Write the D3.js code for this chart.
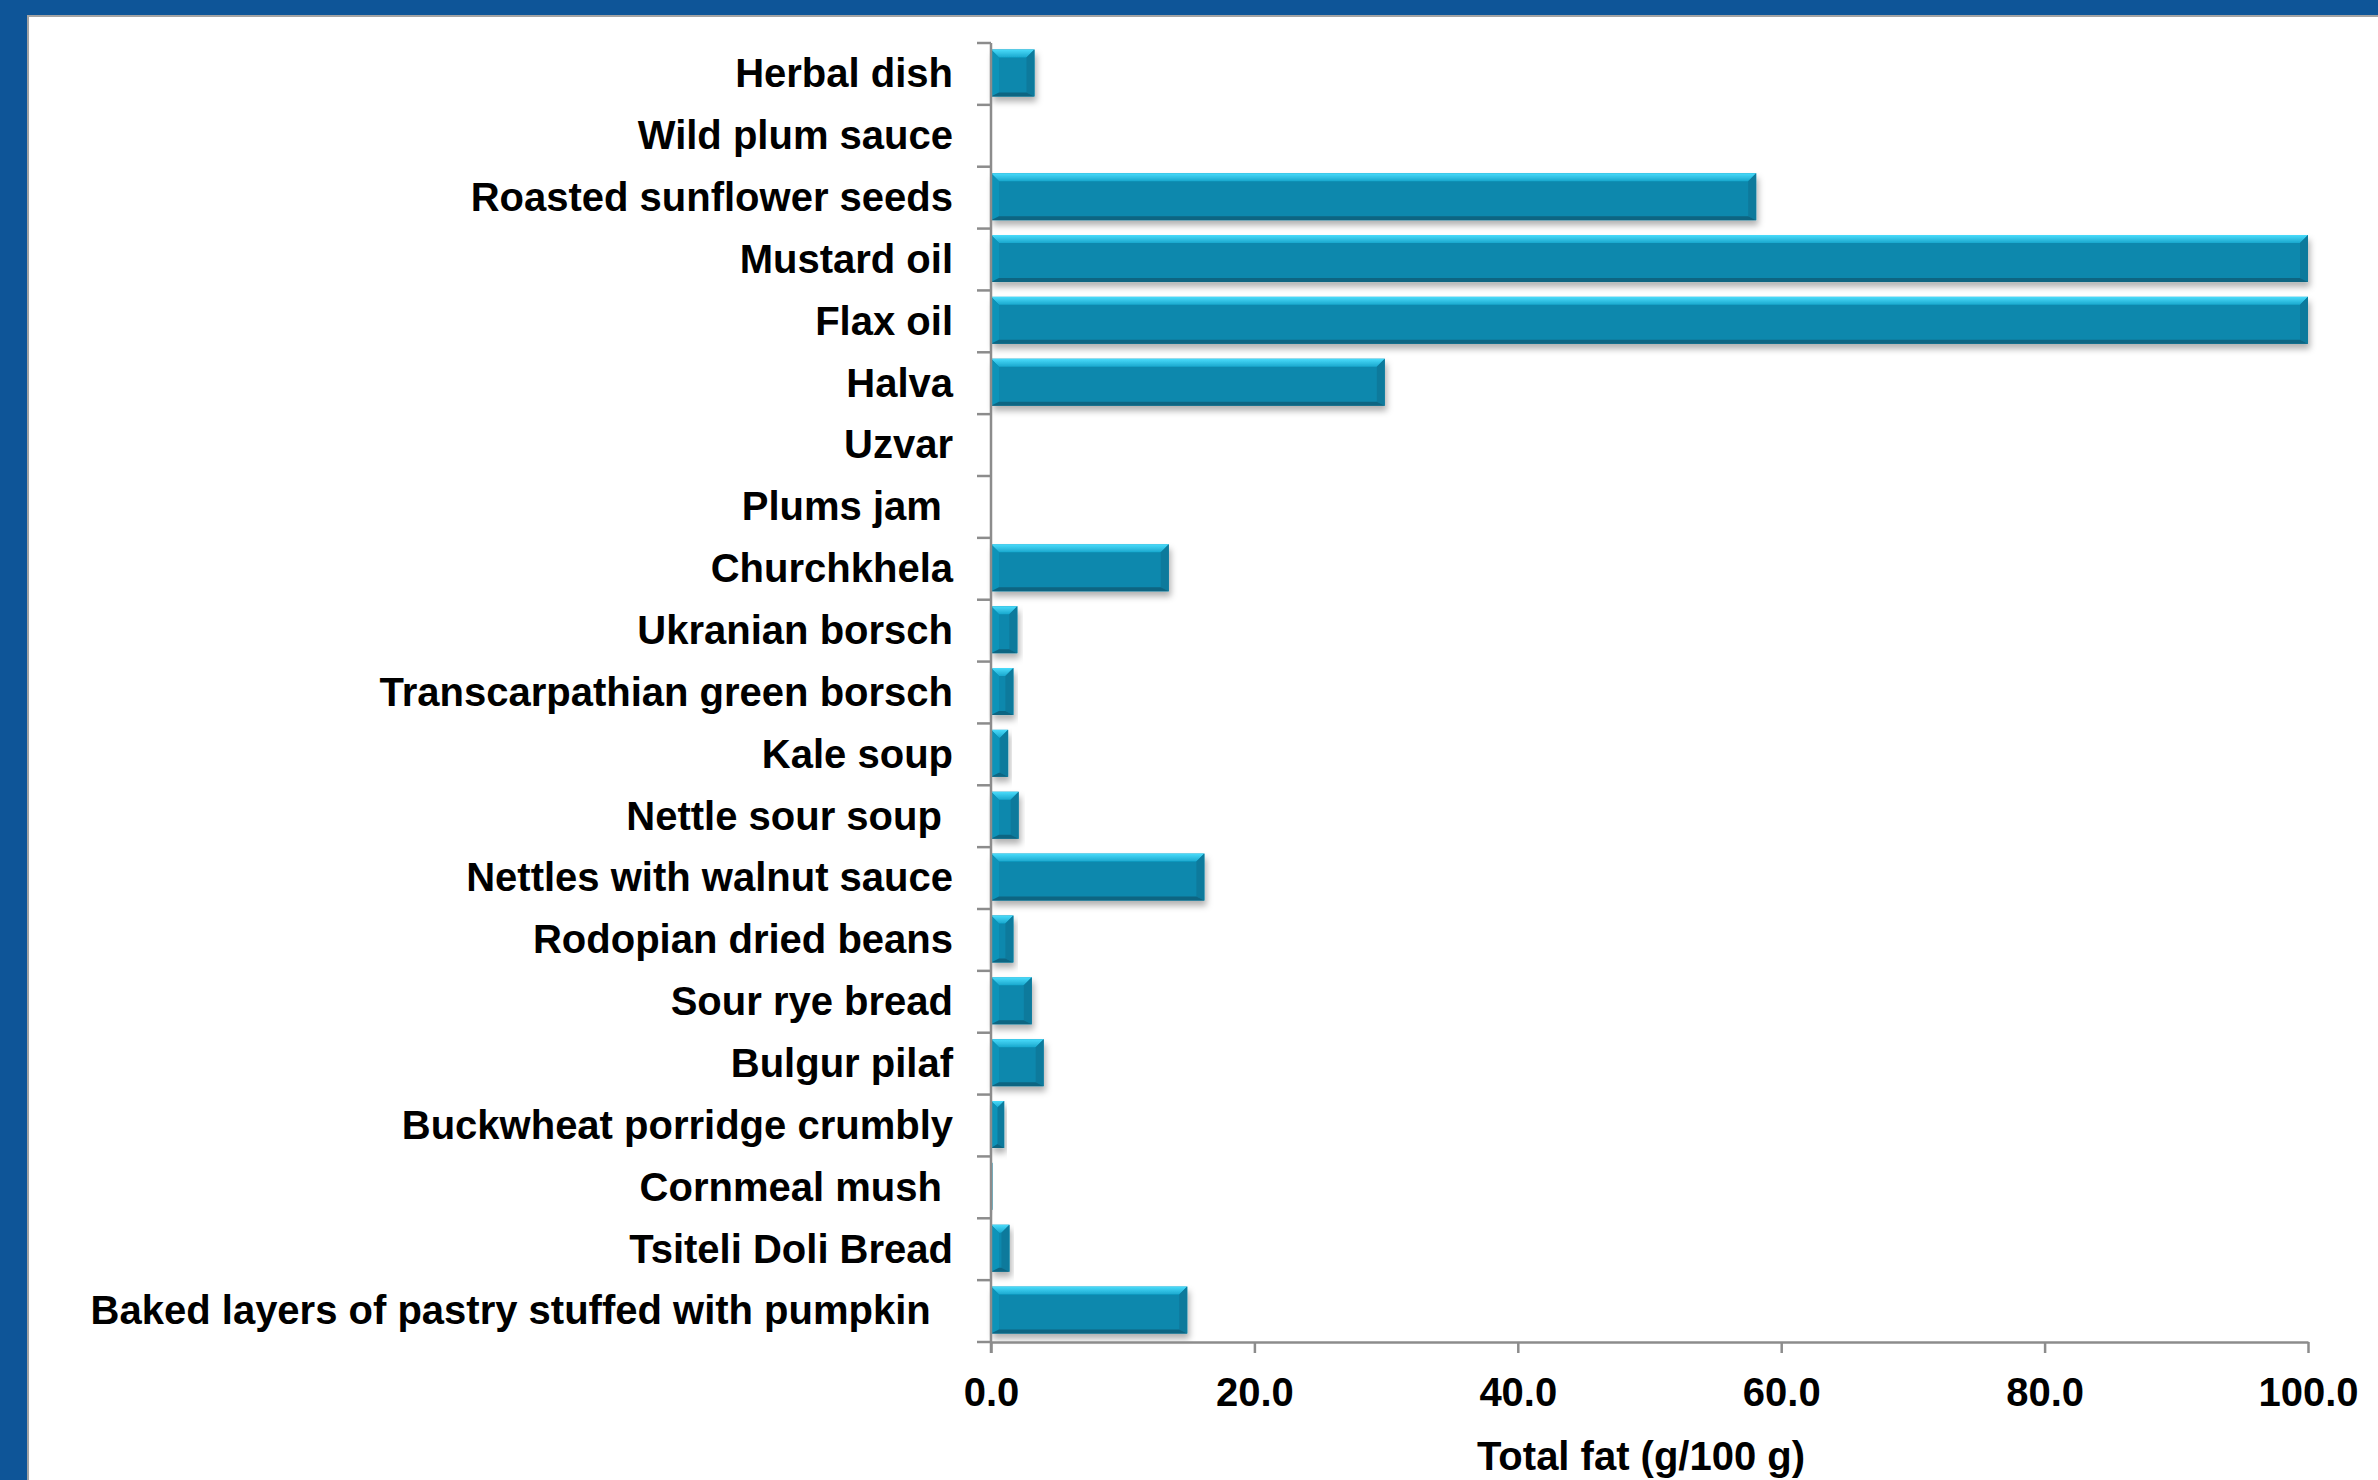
<!DOCTYPE html>
<html>
<head>
<meta charset="utf-8">
<script src="https://cdn.jsdelivr.net/npm/d3@7"></script>
<style>
  html, body { margin: 0; padding: 0; background: #fff; }
  svg text { font-family: "Liberation Sans", Arial, sans-serif; font-weight: bold; white-space: pre; }
</style>
</head>
<body>
<div id="chart"></div>
<script>
// data (top to bottom)
const foods = ["Herbal dish", "Wild plum sauce", "Roasted sunflower seeds", "Mustard oil", "Flax oil",
  "Halva", "Uzvar", "Plums jam ", "Churchkhela", "Ukranian borsch", "Transcarpathian green borsch",
  "Kale soup", "Nettle sour soup ", "Nettles with walnut sauce", "Rodopian dried beans",
  "Sour rye bread", "Bulgur pilaf", "Buckwheat porridge crumbly", "Cornmeal mush ",
  "Tsiteli Doli Bread", "Baked layers of pastry stuffed with pumpkin  "];
const totalFat = [3.3, 0, 58.1, 100, 100, 29.9, 0, 0, 13.5, 2.0, 1.7, 1.3, 2.1, 16.2, 1.7, 3.1, 4.0, 1.0, 0.1, 1.4, 14.9];
const xTicks = [0, 20, 40, 60, 80, 100];
const xTitle = "Total fat (g/100 g)";

const W = 2378, H = 1480;
const plot = { left: 991, right: 2308, top: 43, bottom: 1342 };
const fontSize = 40;

const svg = d3.select("#chart").append("svg")
    .attr("width", W).attr("height", H);

// slide frame
svg.append("rect").attr("width", W).attr("height", H).attr("fill", "#0e5598");
svg.append("rect").attr("x", 28).attr("y", 16).attr("width", W).attr("height", H)
    .attr("fill", "#fff").attr("stroke", "#a3a3a3").attr("stroke-width", 2);

const defs = svg.append("defs");
const shadow = defs.append("filter").attr("id", "shadow")
    .attr("x", "-10%").attr("y", "-20%").attr("width", "130%").attr("height", "160%");
shadow.append("feDropShadow").attr("dx", 2).attr("dy", 5).attr("stdDeviation", 3)
    .attr("flood-color", "#000").attr("flood-opacity", 0.3);

const topGrad = defs.append("linearGradient").attr("id", "topGrad")
    .attr("x1", 0).attr("y1", 0).attr("x2", 0).attr("y2", 1);
topGrad.append("stop").attr("offset", "0%").attr("stop-color", "#4adcfb");
topGrad.append("stop").attr("offset", "100%").attr("stop-color", "#1aa8ce");

const x = d3.scaleLinear().domain([0, 100]).range([plot.left, plot.right]);
const y = d3.scaleBand().domain(foods).range([plot.top, plot.bottom]).paddingInner(0.24).paddingOuter(0.12);
const band = d3.scaleBand().domain(foods).range([plot.top, plot.bottom]);

// bars with a bevel look
const bars = svg.append("g").selectAll("g")
    .data(foods.map((f, i) => ({ name: f, value: totalFat[i] })))
    .join("g")
    .filter(d => d.value > 0)
    .attr("filter", "url(#shadow)");

bars.each(function (d) {
    const g = d3.select(this);
    const x0 = x(0), x1 = x(d.value);
    const w = x1 - x0, h = y.bandwidth();
    const y0 = band(d.name) + (band.bandwidth() - h) / 2 - 1, y1 = y0 + h;
    const b = Math.min(8, w / 2);
    g.append("rect").attr("x", x0).attr("y", y0).attr("width", w).attr("height", h).attr("fill", "#0888ad");
    // top
    g.append("polygon").attr("fill", "url(#topGrad)")
        .attr("points", [[x0, y0], [x1, y0], [x1 - b, y0 + b], [x0 + b, y0 + b]].join(" "));
    // left
    g.append("polygon").attr("fill", "#0a93b8")
        .attr("points", [[x0, y0], [x0 + b, y0 + b], [x0 + b, y1 - 4], [x0, y1]].join(" "));
    // right
    g.append("polygon").attr("fill", "#0a7a9c")
        .attr("points", [[x1, y0], [x1, y1], [x1 - b, y1 - 4], [x1 - b, y0 + b]].join(" "));
    // bottom
    g.append("polygon").attr("fill", "#0b6582")
        .attr("points", [[x0, y1], [x1, y1], [x1 - b, y1 - 4], [x0 + b, y1 - 4]].join(" "));
});

// left axis: line and ticks at band boundaries
const axisColor = "#8c8c8c";
const yAxis = svg.append("g");
yAxis.append("line").attr("x1", plot.left).attr("x2", plot.left)
    .attr("y1", plot.top).attr("y2", plot.bottom + 11)
    .attr("stroke", axisColor).attr("stroke-width", 2.5);
yAxis.selectAll(".tick").data(foods.concat(["_end"]))
    .join("line")
    .attr("x1", plot.left - 14).attr("x2", plot.left)
    .attr("y1", (d, i) => i < foods.length ? band(d) : plot.bottom)
    .attr("y2", (d, i) => i < foods.length ? band(d) : plot.bottom)
    .attr("stroke", axisColor).attr("stroke-width", 2.5);
yAxis.selectAll("text").data(foods).join("text")
    .attr("x", 953)
    .attr("y", d => band(d) + band.bandwidth() / 2 - 1)
    .attr("dy", "0.36em")
    .attr("text-anchor", "end")
    .attr("font-size", fontSize)
    .attr("fill", "#000")
    .text(d => d);

// bottom axis
const xAxis = svg.append("g").attr("transform", `translate(0,${plot.bottom})`)
    .call(d3.axisBottom(x).tickValues(xTicks).tickFormat(d3.format(".1f")).tickSize(11).tickPadding(25).tickSizeOuter(0));
xAxis.select(".domain").attr("stroke", axisColor).attr("stroke-width", 2.5);
xAxis.selectAll(".tick line").attr("stroke", axisColor).attr("stroke-width", 2.5);
xAxis.selectAll(".tick text")
    .attr("font-family", "Liberation Sans, Arial, sans-serif")
    .attr("font-weight", "bold")
    .attr("font-size", fontSize)
    .attr("fill", "#000");

svg.append("text")
    .attr("x", 1641).attr("y", 1470)
    .attr("text-anchor", "middle")
    .attr("font-size", fontSize)
    .attr("fill", "#000")
    .text(xTitle);
</script>
</body>
</html>
